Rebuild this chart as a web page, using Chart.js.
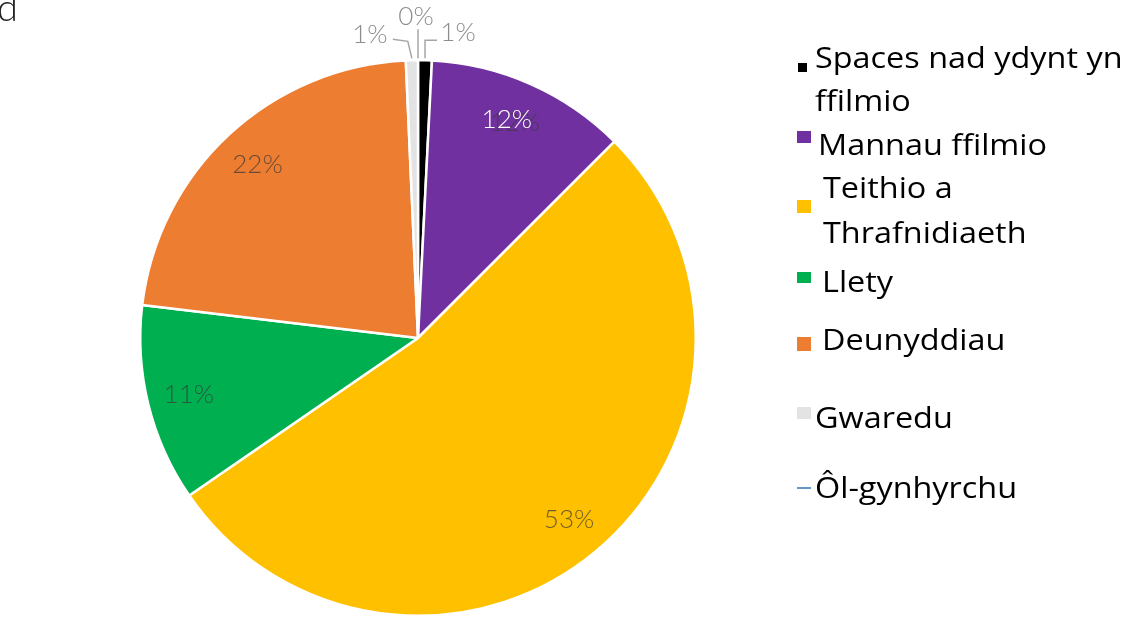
<!DOCTYPE html>
<html>
<head>
<meta charset="utf-8">
<script src="https://cdn.jsdelivr.net/npm/chart.js@4.4.1/dist/chart.umd.min.js"></script>
<style>
  html, body { margin: 0; padding: 0; background: #ffffff; overflow: hidden; }
  #wrap { position: relative; width: 1127px; height: 620px; }
  canvas { display: block; }
</style>
</head>
<body>
<div id="wrap"><canvas id="c" width="1127" height="620"></canvas></div>
<script>
// ---- data ----
const categories = ['Spaces nad ydynt yn ffilmio', 'Mannau ffilmio', 'Teithio a Thrafnidiaeth', 'Llety', 'Deunyddiau', 'Gwaredu', 'Ôl-gynhyrchu'];
const shares = [0.8, 11.7, 52.9, 11.5, 22.4, 0.7, 0];
const percentLabels = ['1%', '12%', '53%', '11%', '22%', '1%', '0%'];
const titleFragment = 'd';

// ---- styles ----
const sliceColors = ['#000000', '#7030A0', '#FFC000', '#00B050', '#ED7D31', '#E3E3E3', '#2E75B6'];
const labelFont = '300 26px Lato, "Open Sans", sans-serif';
const legendFont = '30px "Open Sans", Lato, sans-serif';
const legendStretch = 1.08;
const legendWrapWidth = 312;

// outside-label leader offsets relative to the arc anchor point
const outsideLabels = {
  0: { path: [[0, 0], [0, -18], [12, -18]], text: [33, -26] },
  5: { path: [[0, 0], [-4, -17], [-19, -19]], text: [-42, -24] },
  6: { path: [[0, 0], [0, -29]], text: [-2, -42] }
};

// legend layout (per item): marker box, text x, first baseline, line height
const legendLayout = [
  { mx: 798, my: 63, mw: 9, mh: 9, tx: 815, by: 68, lh: 43 },
  { mx: 797, my: 131, mw: 14, mh: 12, tx: 818, by: 155, lh: 43 },
  { mx: 797, my: 200, mw: 14, mh: 13, tx: 823, by: 198, lh: 45 },
  { mx: 797, my: 272, mw: 14, mh: 11, tx: 822, by: 292, lh: 43 },
  { mx: 797, my: 337, mw: 14, mh: 14, tx: 822, by: 350, lh: 43 },
  { mx: 797, my: 407, mw: 14, mh: 12, tx: 815, by: 428, lh: 43 },
  { mx: 797, my: 488, mw: 14, mh: 0, tx: 815, by: 498, lh: 43, line: true }
];

function wrapText(ctx, text, maxW, stretch) {
  const words = text.split(' ');
  const lines = [];
  let cur = '';
  for (const w of words) {
    const test = cur ? cur + ' ' + w : w;
    if (ctx.measureText(test).width * stretch > maxW && cur) { lines.push(cur); cur = w; }
    else cur = test;
  }
  if (cur) lines.push(cur);
  return lines;
}

const labelPlugin = {
  id: 'labels',
  afterDatasetsDraw(chart) {
    const ctx = chart.ctx;
    const meta = chart.getDatasetMeta(0);
    ctx.save();
    ctx.font = labelFont;
    ctx.textAlign = 'center';
    ctx.textBaseline = 'middle';
    meta.data.forEach((arc, i) => {
      const p = arc.getProps(['x', 'y', 'startAngle', 'endAngle', 'outerRadius'], true);
      const mid = (p.startAngle + p.endAngle) / 2;
      if (outsideLabels[i]) {
        const o = outsideLabels[i];
        const ax = p.x + Math.cos(mid) * (p.outerRadius + 2);
        const ay = p.y + Math.sin(mid) * (p.outerRadius + 2);
        ctx.strokeStyle = '#a6a6a6';
        ctx.lineWidth = 1.5;
        ctx.beginPath();
        o.path.forEach(([dx, dy], k) => {
          if (k === 0) ctx.moveTo(ax + dx, ay + dy); else ctx.lineTo(ax + dx, ay + dy);
        });
        ctx.stroke();
        ctx.fillStyle = '#8c8c8c';
        ctx.fillText(percentLabels[i], ax + o.text[0], ay + o.text[1]);
      } else {
        const r = p.outerRadius * 0.85;
        const tx = p.x + Math.cos(mid) * r;
        const ty = p.y + Math.sin(mid) * r;
        if (i === 1) {
          ctx.fillStyle = 'rgba(60,60,60,0.75)';
          ctx.fillText(percentLabels[i], tx + 1, ty);
          ctx.fillStyle = '#ffffff';
          ctx.fillText(percentLabels[i], tx - 7, ty - 3);
        } else {
          ctx.fillStyle = 'rgba(55,55,55,0.72)';
          ctx.fillText(percentLabels[i], tx, ty);
        }
      }
    });
    ctx.restore();
  }
};

const legendPlugin = {
  id: 'customLegend',
  afterDraw(chart) {
    const ctx = chart.ctx;
    ctx.save();
    ctx.font = legendFont;
    ctx.textAlign = 'left';
    ctx.textBaseline = 'alphabetic';
    categories.forEach((name, i) => {
      const L = legendLayout[i];
      if (L.line) {
        ctx.strokeStyle = sliceColors[i];
        ctx.lineWidth = 1.5;
        ctx.beginPath();
        ctx.moveTo(L.mx, L.my);
        ctx.lineTo(L.mx + L.mw, L.my);
        ctx.stroke();
      } else {
        ctx.fillStyle = sliceColors[i];
        ctx.fillRect(L.mx, L.my, L.mw, L.mh);
      }
      ctx.fillStyle = '#000000';
      const lines = wrapText(ctx, name, legendWrapWidth, legendStretch);
      lines.forEach((ln, k) => {
        ctx.save();
        ctx.translate(L.tx, L.by + k * L.lh);
        ctx.scale(legendStretch, 1);
        ctx.fillText(ln, 0, 0);
        ctx.restore();
      });
    });
    // clipped title fragment
    ctx.font = '300 38px Lato, "Open Sans", sans-serif';
    ctx.fillStyle = '#222222';
    ctx.fillText(titleFragment, -3, 21);
    ctx.restore();
  }
};

new Chart(document.getElementById('c'), {
  type: 'pie',
  data: {
    labels: categories,
    datasets: [{
      data: shares,
      backgroundColor: sliceColors,
      borderColor: '#ffffff',
      borderWidth: 2.5
    }]
  },
  options: {
    responsive: false,
    animation: false,
    devicePixelRatio: 1,
    layout: { padding: { left: 139, top: 59, right: 430, bottom: 3 } },
    plugins: {
      legend: { display: false },
      tooltip: { enabled: false },
      title: { display: false }
    }
  },
  plugins: [labelPlugin, legendPlugin]
});
</script>
</body>
</html>
